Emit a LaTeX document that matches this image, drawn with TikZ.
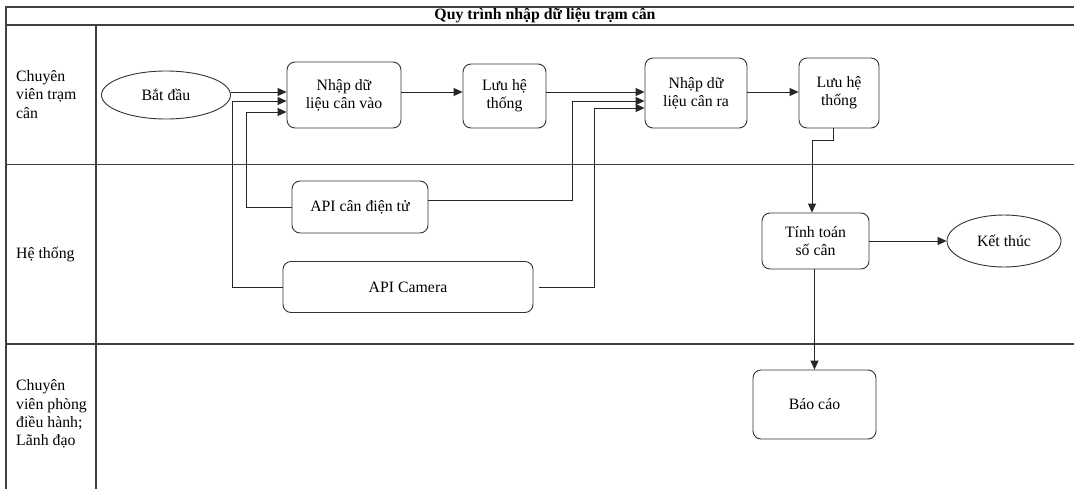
\documentclass[tikz,border=0pt]{standalone}
\usepackage{fontspec}
\setmainfont{Liberation Serif}
\usetikzlibrary{arrows.meta,shapes.geometric}
\begin{document}
\begin{tikzpicture}[x=1pt,y=-1pt,
  every node/.style={font=\fontsize{15.8}{18.3}\selectfont},
  frameline/.style={line width=1.1pt, draw=black!75},
  procbox/.style={draw=black!80, line width=0.9pt, rounded corners=8pt, align=center, inner sep=0pt},
  termnode/.style={draw=black!80, line width=0.9pt, ellipse, inner sep=0pt},
  lanelabel/.style={anchor=west, align=left, inner sep=0pt},
  arr/.style={draw=black!85, line width=0.9pt, -{Triangle[length=9pt,width=8pt]}},
  ln/.style={draw=black!85, line width=0.9pt}
]
\useasboundingbox (0,0) rectangle (1074,488);
\clip (0,0) rectangle (1074,488);
\fill[white] (0,0) rectangle (1074,488);

% frame
\draw[frameline] (6,495) -- (6,7) -- (1090,7);
\draw[frameline] (6,25) -- (1090,25);
\draw[frameline] (96,25) -- (96,495);
\draw[frameline] (6,164.5) -- (1090,164.5);
\draw[frameline] (6,344) -- (1090,344);

\node[font=\fontsize{15.8}{18.3}\selectfont\bfseries] (title) at (545,16) {Quy trình nhập dữ liệu trạm cân};

% lane labels
\node[lanelabel] (l1) at (16,94.5) {Chuyên\\viên trạm\\cân};
\node[lanelabel] (l2) at (16,254) {Hệ thống};
\node[lanelabel] (l3) at (16,414) {Chuyên\\viên phòng\\điều hành;\\Lãnh đạo};

% nodes
\node[termnode, minimum width=129pt, minimum height=48pt] (start) at (166,95) {Bắt đầu};
\node[procbox, minimum width=114pt, minimum height=66pt] (vao) at (344,95) {Nhập dữ\\liệu cân vào};
\node[procbox, minimum width=83pt, minimum height=64pt] (luu1) at (504.5,96) {Lưu hệ\\thống};
\node[procbox, minimum width=102pt, minimum height=70pt] (ra) at (696,93) {Nhập dữ\\liệu cân ra};
\node[procbox, minimum width=80pt, minimum height=70pt] (luu2) at (839,93) {Lưu hệ\\thống};
\node[procbox, minimum width=136pt, minimum height=52pt] (dt) at (360,207) {API cân điện tử};
\node[procbox, minimum width=250pt, minimum height=51pt] (cam) at (408,287) {API Camera};
\node[procbox, minimum width=107pt, minimum height=56pt] (tinh) at (815.5,241) {Tính toán\\số cân};
\node[termnode, minimum width=114pt, minimum height=52pt] (ket) at (1004,241) {Kết thúc};
\node[procbox, minimum width=123pt, minimum height=69pt] (bao) at (814.5,404.5) {Báo cáo};

% helper coordinates
\coordinate (m) at (0,92);
\coordinate (c1) at (232,101);
\coordinate (c2) at (246,112);
\coordinate (c4) at (572,101);
\coordinate (c5) at (594,108);
\coordinate (c6) at (833,140);
\coordinate (c7) at (812,140);

% connectors
\draw[arr] (start.east |- m) -- (vao.west |- m);
\draw[arr] (cam.west) -| (c1) -- (c1 -| vao.west);
\draw[arr] (dt.west) -| (c2) -- (c2 -| vao.west);
\draw[arr] (vao.east |- m) -- (luu1.west |- m);
\draw[arr] (luu1.east |- m) -- (ra.west |- m);
\draw[arr] ([yshift=7pt]dt.east) -| (c4) -- (c4 -| ra.west);
\draw[arr, shorten <=6pt] (cam.east) -| (c5) -- (c5 -| ra.west);
\draw[arr] (ra.east |- m) -- (luu2.west |- m);
\draw[arr] (c6 |- luu2.south) -- (c6) -- (c7) -- (c7 |- tinh.north);
\draw[arr] (tinh) -- (ket);
\draw[arr] (tinh.south -| bao.north) -- (bao.north);
\end{tikzpicture}
\end{document}
